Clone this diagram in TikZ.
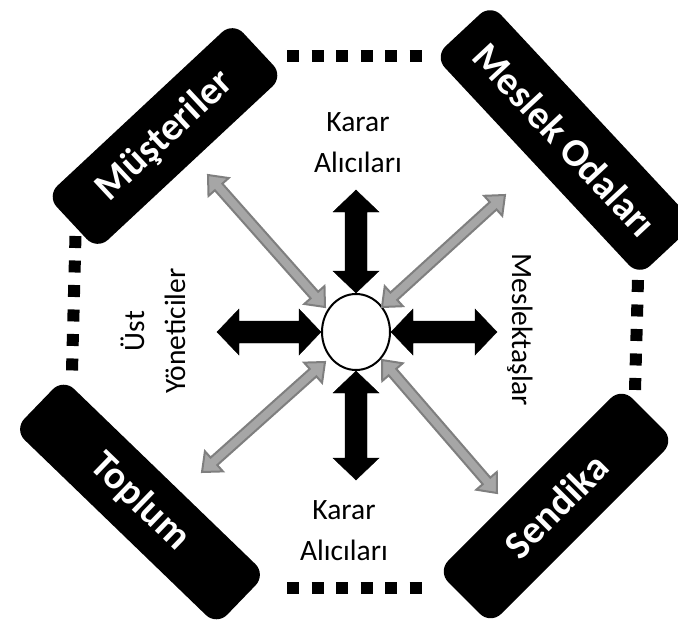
\documentclass[tikz,border=0pt]{standalone}
\usepackage{fontspec}
\setmainfont{Carlito}
\usetikzlibrary{calc,positioning,shapes.geometric}

\definecolor{arrowgray}{HTML}{A6A6A6}
\definecolor{edgegray}{HTML}{7F7F7F}

% double block arrow: style, end, end, head length, head half width, shaft half width
\newcommand{\blockarrow}[6]{%
  \coordinate (ba-p) at ($(#2)!#4!(#3)$);
  \coordinate (ba-q) at ($(#3)!#4!(#2)$);
  \draw[#1] (#2) -- ($(ba-p)!#5!90:(#2)$) -- ($(ba-p)!#6!90:(#2)$)
    -- ($(ba-q)!#6!-90:(#3)$) -- ($(ba-q)!#5!-90:(#3)$) -- (#3)
    -- ($(ba-q)!#5!90:(#3)$) -- ($(ba-q)!#6!90:(#3)$)
    -- ($(ba-p)!#6!-90:(#2)$) -- ($(ba-p)!#5!-90:(#2)$) -- cycle;
}

\begin{document}
\begin{tikzpicture}[x=1pt, y=-1pt,
    actor/.style={fill=black, rounded corners=15pt, inner sep=0pt, text=white,
        font=\fontsize{39.5pt}{44pt}\selectfont\bfseries},
    hub/.style={ellipse, draw, line width=2pt, fill=white, inner sep=0pt,
        minimum width=68pt, minimum height=76pt},
    role/.style={font=\fontsize{29.5pt}{41pt}\selectfont, align=center, inner sep=0pt},
    dots/.style={line width=12pt, dash pattern=on 12pt off 12.5pt},
    blk/.style={fill=black},
    gry/.style={fill=arrowgray, draw=edgegray, line width=2pt}
]
\useasboundingbox (0,0) rectangle (678,627);
\clip (0,0) rectangle (678,627);

% dotted links between the groups
\coordinate (dT1) at (287,56);
\coordinate (dT2) at (421.5,56);
\coordinate (dB1) at (287,587.5);
\coordinate (dB2) at (421.5,587.5);
\coordinate (dL1) at (75.5,236);
\coordinate (dL2) at (72,370.5);
\coordinate (dR1) at (638,280);
\coordinate (dR2) at (635,390);

\draw[dots] (dT1) -- (dT2);
\draw[dots] (dB1) -- (dB2);
\draw[dots] (dL1) -- (dL2);
\draw[dots] (dR1) -- (dR2);

\node[actor, minimum width=255pt, minimum height=74pt, rotate=43] (mus) at (165,136) {Müşteriler};
\node[actor, minimum width=300pt, minimum height=77pt, rotate=-47] (odalar) at (565,140) {Meslek Odaları};
\node[actor, minimum width=282pt, minimum height=71pt, rotate=-44] (toplum) at (140,502) {Toplum};
\node[actor, minimum width=260pt, minimum height=75pt, rotate=45] (sendika) at (556,506) {Sendika};

\node[hub] (hub) at (356,332) {};

% black arrows
\coordinate (kN) at (356,190);
\coordinate (kS) at (356,480);
\coordinate (kW) at (217,332);
\coordinate (kE) at (497,332);

\blockarrow{blk}{hub.north}{kN}{22pt}{23pt}{11pt}
\blockarrow{blk}{hub.south}{kS}{22pt}{23pt}{11pt}
\blockarrow{blk}{hub.west}{kW}{22pt}{23pt}{11pt}
\blockarrow{blk}{hub.east}{kE}{22pt}{23pt}{11pt}

% gray arrows
\coordinate (gNW) at (208,175);
\coordinate (gNE) at (505,195);
\coordinate (gSW) at (202,472);
\coordinate (gSE) at (497,493);
\coordinate (hNW) at (325,307);
\coordinate (hNE) at (382,307);
\coordinate (hSW) at (325,362);
\coordinate (hSE) at (382,360);

\blockarrow{gry}{hNW}{gNW}{16pt}{13.5pt}{5pt}
\blockarrow{gry}{hNE}{gNE}{16pt}{13.5pt}{5pt}
\blockarrow{gry}{hSW}{gSW}{16pt}{13.5pt}{5pt}
\blockarrow{gry}{hSE}{gSE}{16pt}{13.5pt}{5pt}

\node[role] (kararN) at (358,143) {Karar\\Alıcıları};
\node[role] (kararS) at (344,531) {Karar\\Alıcıları};
\node[role, rotate=90] (ust) at (153,331) {Üst\\Yöneticiler};
\node[role, rotate=-90] (meslek) at (520,330) {Meslektaşlar};

\end{tikzpicture}
\end{document}
